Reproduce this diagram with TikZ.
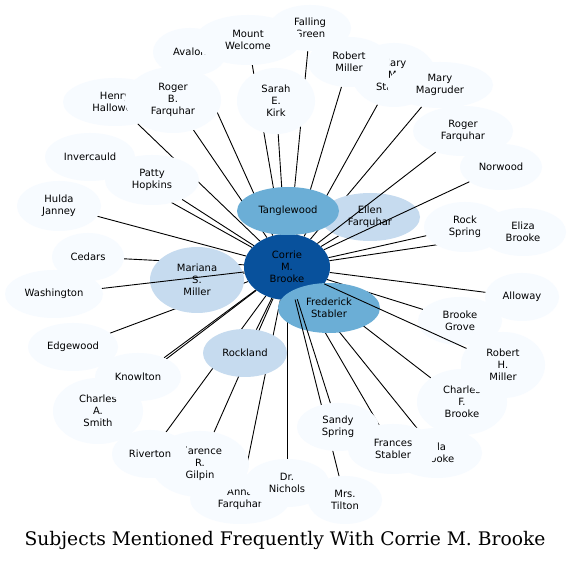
\documentclass[tikz,border=0pt]{standalone}
\usepackage{fontspec}
\newfontfamily\nodefont{DejaVu Sans}
\newfontfamily\titlefont{DejaVu Serif}
\usetikzlibrary{shapes.geometric}
\definecolor{bLight}{HTML}{F7FBFF}
\definecolor{bPale}{HTML}{C6DBEF}
\definecolor{bMid}{HTML}{6BAED6}
\definecolor{bDark}{HTML}{08519C}
\pgfdeclarelayer{bg}
\pgfdeclarelayer{under}
\pgfdeclarelayer{over}
\pgfdeclarelayer{top}
\pgfsetlayers{bg,under,main,over,top}
\tikzset{
 nd/.style={ellipse, draw=none, inner sep=0pt, align=center, text=black,
   font=\nodefont\fontsize{10}{12}\selectfont},
 lt/.style={nd, fill=bLight},
 pl/.style={nd, fill=bPale},
 md/.style={nd, fill=bMid},
 dk/.style={nd, fill=bDark},
 sz/.style 2 args={minimum width=#1pt, minimum height=#2pt},
 conn/.style={draw=black, line width=0.9pt},
 ttl/.style={font=\titlefont\fontsize{18.7}{20}\selectfont, text=black},
}
\begin{document}
\begin{tikzpicture}[x=1pt,y=-1pt]
\begin{pgfonlayer}{bg}
\fill[white] (0,0) rectangle (571,561);
\end{pgfonlayer}
\useasboundingbox (0,0) rectangle (571,561);
% light nodes
\node[lt, sz={74}{48}] (ava) at (190,52) {Avalon};
\node[lt, sz={82}{46}] (fg) at (310,28) {Falling\\Green};
\node[lt, sz={106}{50}] (mw) at (248,40) {Mount\\Welcome};
\node[lt, sz={78}{66}] (sarah) at (276,101) {Sarah\\E.\\Kirk};
\node[lt, sz={84}{64}] (mms) at (394,75) {Mary\\M.\\Stabler};
\node[lt, sz={82}{50}] (rmil) at (349,62) {Robert\\Miller};
\node[lt, sz={106}{46}] (mmag) at (440,85) {Mary\\Magruder};
\node[lt, sz={100}{50}] (rogf) at (463,131) {Roger\\Farquhar};
\node[lt, sz={82}{46}] (norw) at (501,167) {Norwood};
\node[lt, sz={104}{48}] (henry) at (115,102) {Henry\\Hallowell};
\node[lt, sz={96}{66}] (rogb) at (173,100) {Roger\\B.\\Farquhar};
\node[lt, sz={90}{48}] (inv) at (90,157) {Invercauld};
\node[lt, sz={94}{50}] (patty) at (152,180) {Patty\\Hopkins};
\node[lt, sz={84}{50}] (hulda) at (59,206) {Hulda\\Janney};
\node[lt, sz={72}{48}] (cedars) at (88,257) {Cedars};
\node[lt, sz={98}{48}] (wash) at (54,294) {Washington};
\node[lt, sz={90}{48}] (edgew) at (73,347) {Edgewood};
\node[lt, sz={90}{66}] (cas) at (98,411) {Charles\\A.\\Smith};
\node[lt, sz={86}{48}] (know) at (138,377) {Knowlton};
\node[lt, sz={100}{50}] (anna) at (240,499) {Anna\\Farquhar};
\node[lt, sz={98}{66}] (clar) at (200,464) {Clarence\\R.\\Gilpin};
\node[lt, sz={76}{48}] (riv) at (150,454) {Riverton};
\node[lt, sz={84}{48}] (nich) at (287,483) {Dr.\\Nichols};
\node[lt, sz={74}{48}] (tilton) at (345,500) {Mrs.\\Tilton};
\node[lt, sz={90}{50}] (ella) at (437,453) {Ella\\Brooke};
\node[lt, sz={90}{50}] (fran) at (393,449) {Frances\\Stabler};
\node[lt, sz={90}{66}] (cfb) at (462,402) {Charles\\F.\\Brooke};
\node[lt, sz={84}{66}] (rhm) at (503,365) {Robert\\H.\\Miller};
\node[lt, sz={84}{48}] (bgrove) at (460,321) {Brooke\\Grove};
\node[lt, sz={74}{48}] (allo) at (522,297) {Alloway};
\node[lt, sz={82}{50}] (rspr) at (465,227) {Rock\\Spring};
\node[lt, sz={86}{48}] (eliza) at (523,232) {Eliza\\Brooke};
% stronger nodes
\node[pl, sz={94}{66}] (mar) at (197,280) {Mariana\\S.\\Miller};
\node[pl, sz={84}{48}] (rock) at (245,353) {Rockland};
\node[pl, sz={100}{48}] (ellen) at (370,217) {Ellen\\Farquhar};
\node[dk, sz={86}{66}] (c) at (287,267) {Corrie\\M.\\Brooke};
\node[md, sz={102}{48}] (tang) at (288,211) {Tanglewood};
\node[md, sz={102}{50}] (fred) at (329,308) {Frederick\\Stabler};
\begin{pgfonlayer}{top}
\node[lt, sz={82}{48}] (sandy) at (338,427) {Sandy\\Spring};
\end{pgfonlayer}
% edges below the nodes
\begin{pgfonlayer}{under}
\foreach \t in {fg,mw,ava,rmil,mms,mmag,sarah,rogb,henry,inv,patty,hulda,cedars,edgew,know,cas,riv,clar,anna,nich,fran,ella,cfb,bgrove,allo,rspr,eliza,tang,fred,mar,ellen,rock}
  \draw[conn] (c) -- (\t);
\end{pgfonlayer}
% edges drawn over nodes
\begin{pgfonlayer}{over}
\foreach \t in {wash,rogf,norw,sandy,tilton,rhm}
  \draw[conn] (c) -- (\t);
\end{pgfonlayer}
\node[ttl] (title) at (285,540) {Subjects Mentioned Frequently With Corrie M. Brooke};
\end{tikzpicture}
\end{document}
